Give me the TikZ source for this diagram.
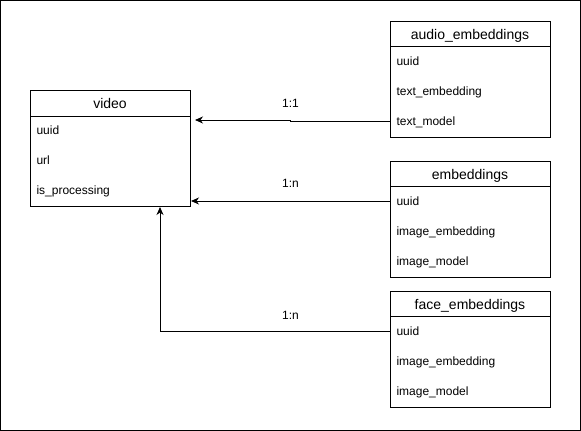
\documentclass[tikz,border=0pt]{standalone}
\usepackage{fontspec}
\setmainfont{Liberation Sans}
\usetikzlibrary{arrows.meta}
\begin{document}
\begin{tikzpicture}[x=1pt,y=-1pt,line width=1pt,
  tbl/.style={draw,anchor=north west,minimum width=160pt,minimum height=116pt,inner sep=0pt},
  hdr/.style={anchor=base,inner sep=0pt,font=\fontsize{14}{16}\selectfont},
  fld/.style={anchor=base west,inner sep=0pt,font=\fontsize{12}{14}\selectfont},
  lbl/.style={inner sep=0pt,font=\fontsize{12}{14}\selectfont},
  rel/.style={draw,-{Stealth[length=8pt,width=7pt,inset=2.5pt]}}]
\useasboundingbox (0,0) rectangle (581,431);
\draw (0.5,0.5) rectangle (580.5,430.5);
% video
\node[tbl] (video) at (30,90) {};
\draw (30,116) -- (190,116);
\node[hdr] (videoh) at (110,108.5) {video};
\node[fld] (v1) at (36,134.5) {uuid};
\node[fld] (v2) at (36,164.5) {url};
\node[fld] (v3) at (36,194.5) {is\_processing};
% audio_embeddings
\node[tbl] (aud) at (390,20.5) {};
\draw (390,46.5) -- (550,46.5);
\node[hdr] (audh) at (470,39) {audio\_embeddings};
\node[fld] (a1) at (396,65) {uuid};
\node[fld] (a2) at (396,95) {text\_embedding};
\node[fld] (a3) at (396,125) {text\_model};
% embeddings
\node[tbl] (emb) at (390,160.5) {};
\draw (390,186.5) -- (550,186.5);
\node[hdr] (embh) at (470,179) {embeddings};
\node[fld] (e1) at (396,205) {uuid};
\node[fld] (e2) at (396,235) {image\_embedding};
\node[fld] (e3) at (396,265) {image\_model};
% face_embeddings
\node[tbl] (face) at (390,290.5) {};
\draw (390,316.5) -- (550,316.5);
\node[hdr] (faceh) at (470,309) {face\_embeddings};
\node[fld] (f1) at (396,335) {uuid};
\node[fld] (f2) at (396,365) {image\_embedding};
\node[fld] (f3) at (396,395) {image\_model};
% connectors
\coordinate (t1) at (195,120);
\draw[rel] (aud.west |- 0,121.5) -- (290.5,121.5) -- (290.5,120) -- (t1);
\draw[rel] (emb.west |- 0,201) -- (video.east |- 0,201);
\draw[rel] (face.west |- 0,331) -- (160,331) -- (video.south -| 160,0);
% labels
\node[lbl] (l1) at (290.5,103) {1:1};
\node[lbl] (l2) at (290.5,183) {1:n};
\node[lbl] (l3) at (290.5,315) {1:n};
\end{tikzpicture}
\end{document}
